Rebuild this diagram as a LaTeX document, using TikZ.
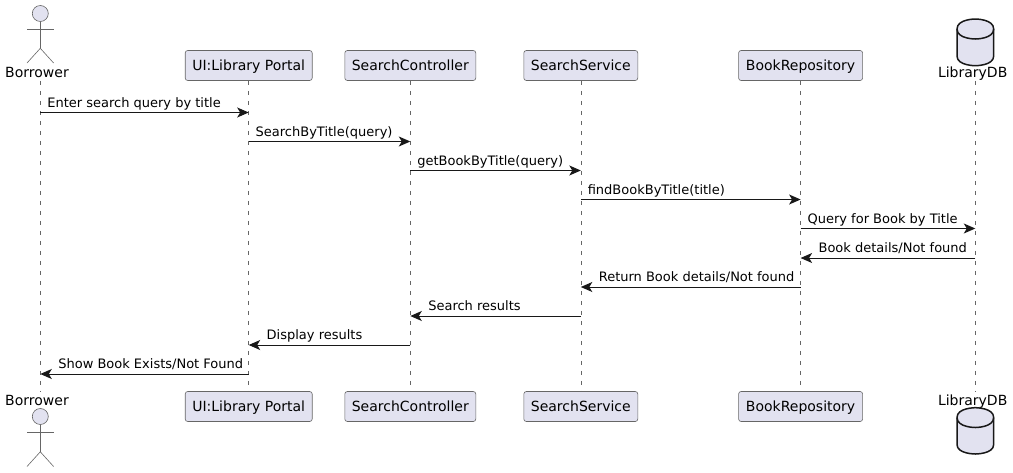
\documentclass[tikz,border=0pt]{standalone}
\usepackage{fontspec}
\setmainfont{DejaVu Sans}
\usetikzlibrary{arrows.meta, backgrounds}
\definecolor{partfill}{HTML}{E2E2F0}
\definecolor{partline}{HTML}{181818}
\definecolor{thinline}{HTML}{666666}
\tikzset{%
	part/.style={draw=thinline, line width=0.6pt, fill=partfill, rectangle, rounded corners=2.5pt,%
		minimum height=30pt, inner sep=0pt, font=\fontsize{14}{16}\selectfont, text height=13.5pt, text depth=3pt},
	plabel/.style={inner sep=0pt, font=\fontsize{14}{16}\selectfont, text height=12.5pt, text depth=3pt},
	head/.style={draw=thinline, line width=0.6pt, fill=partfill, circle, minimum size=16pt, inner sep=0pt},
	limb/.style={draw=thinline, line width=0.6pt},
	db/.style={draw=partline, line width=1.5pt, fill=partfill},
	life/.style={draw=thinline, line width=0.5pt, dash pattern=on 4.5pt off 5.5pt},
	msg/.style={-{Stealth[length=11.5pt, width=10pt, inset=3pt]}, draw=partline, line width=1pt},
	goright/.style={pos=0, anchor=base west, inner sep=0pt, xshift=6.5pt, yshift=5.5pt, font=\fontsize{13}{15}\selectfont},
	goleft/.style={pos=1, anchor=base west, inner sep=0pt, xshift=17.5pt, yshift=5.5pt, font=\fontsize{13}{15}\selectfont}
}
\begin{document}
\begin{tikzpicture}[x=1pt, y=-1pt]
	\useasboundingbox (0,0) rectangle (1013,472);

	% top row
	\node[plabel] (bor-t) at (37,73) {Borrower};
	\node[part, minimum width=127pt] (ui-t) at (248.7,65.5) {UI:Library Portal};
	\node[part, minimum width=131pt] (ctl-t) at (410.3,65.5) {SearchController};
	\node[part, minimum width=114pt] (svc-t) at (580.8,65.5) {SearchService};
	\node[part, minimum width=124pt] (rep-t) at (800.6,65.5) {BookRepository};
	\node[plabel] (lib-t) at (972.7,73) {LibraryDB};

	% bottom row
	\node[plabel] (bor-b) at (37,400.3) {Borrower};
	\node[part, minimum width=127pt] (ui-b) at (248.7,406.5) {UI:Library Portal};
	\node[part, minimum width=131pt] (ctl-b) at (410.3,406.5) {SearchController};
	\node[part, minimum width=114pt] (svc-b) at (580.8,406.5) {SearchService};
	\node[part, minimum width=124pt] (rep-b) at (800.6,406.5) {BookRepository};
	\node[plabel] (lib-b) at (972.7,400.3) {LibraryDB};

	% actors
	\node[head] (hd-t) at (40.3,13.5) {};
	\draw[limb] (hd-t.south) -- ++(0,26.5) coordinate (hip-t);
	\draw[limb] (27,29) -- (53.6,29);
	\draw[limb] (27,63) -- (hip-t) -- (53.6,63);
	\node[head] (hd-b) at (40.3,416.5) {};
	\draw[limb] (hd-b.south) -- ++(0,27) coordinate (hip-b);
	\draw[limb] (27,432) -- (53.6,432);
	\draw[limb] (27,466.5) -- (hip-b) -- (53.6,466.5);

	% databases
	\coordinate (db-t) at (975.3,19);
	\coordinate (db-b) at (975.3,454);
	\draw[db] (957,29) .. controls (957,19) and (975.3,19) .. (db-t)
		.. controls (975.3,19) and (993.7,19) .. (993.7,29) -- (993.7,56)
		.. controls (993.7,65.7) and (975.3,65.7) .. (975.3,65.7)
		.. controls (975.3,65.7) and (957,65.7) .. (957,56) -- cycle;
	\draw[db, fill=none] (957,29) .. controls (957,39) and (975.3,39) .. (975.3,39)
		.. controls (975.3,39) and (993.7,39) .. (993.7,29);
	\draw[db] (957,417.5) .. controls (957,407.7) and (975.3,407.7) .. (975.3,407.7)
		.. controls (975.3,407.7) and (993.7,407.7) .. (993.7,417.5) -- (993.7,444.5)
		.. controls (993.7,454) and (975.3,454) .. (db-b)
		.. controls (975.3,454) and (957,454) .. (957,444.5) -- cycle;
	\draw[db, fill=none] (957,417.5) .. controls (957,427.5) and (975.3,427.5) .. (975.3,427.5)
		.. controls (975.3,427.5) and (993.7,427.5) .. (993.7,417.5);

	% lifelines
	\begin{scope}[on background layer]
		\draw[life] (bor-t.south -| hd-t) -- (bor-b.north -| hd-t);
		\draw[life] (ui-t) -- (ui-b);
		\draw[life] (ctl-t) -- (ctl-b);
		\draw[life] (svc-t) -- (svc-b);
		\draw[life] (rep-t) -- (rep-b);
		\draw[life] (lib-t.south -| db-t) -- (lib-b.north -| db-t);
	\end{scope}

	% messages
	\coordinate (m1) at (0,112.5);
	\coordinate (m2) at (0,141.5);
	\coordinate (m3) at (0,170.5);
	\coordinate (m4) at (0,199.5);
	\coordinate (m5) at (0,228.5);
	\coordinate (m6) at (0,258);
	\coordinate (m7) at (0,287);
	\coordinate (m8) at (0,316);
	\coordinate (m9) at (0,345);
	\coordinate (m10) at (0,374);
	\draw[msg] (hd-t |- m1) to node[goright] {Enter search query by title} (ui-t |- m1);
	\draw[msg] (ui-t |- m2) to node[goright] {SearchByTitle(query)} (ctl-t |- m2);
	\draw[msg] (ctl-t |- m3) to node[goright] {getBookByTitle(query)} (svc-t |- m3);
	\draw[msg] (svc-t |- m4) to node[goright] {findBookByTitle(title)} (rep-t |- m4);
	\draw[msg] (rep-t |- m5) to node[goright] {Query for Book by Title} (db-t |- m5);
	\draw[msg] (db-t |- m6) to node[goleft] {Book details/Not found} (rep-t |- m6);
	\draw[msg] (rep-t |- m7) to node[goleft] {Return Book details/Not found} (svc-t |- m7);
	\draw[msg] (svc-t |- m8) to node[goleft] {Search results} (ctl-t |- m8);
	\draw[msg] (ctl-t |- m9) to node[goleft] {Display results} (ui-t |- m9);
	\draw[msg] (ui-t |- m10) to node[goleft] {Show Book Exists/Not Found} (hd-t |- m10);
\end{tikzpicture}
\end{document}
